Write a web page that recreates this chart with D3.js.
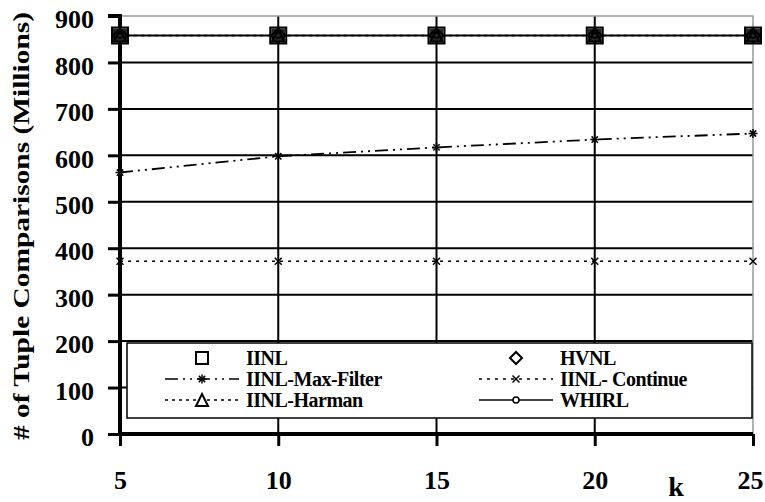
<!DOCTYPE html>
<html><head><meta charset="utf-8">
<script src="https://cdn.jsdelivr.net/npm/d3@7"></script>
<style>body{margin:0;background:#fff}svg{display:block}text{font-family:"Liberation Serif","Times New Roman",serif}</style>
</head><body>
<svg id="c" width="765" height="502"></svg>
<script>
const kValues = [5, 10, 15, 20, 25];
const iinl = [858, 858, 858, 858, 858];
const hvnl = [858, 858, 858, 858, 858];
const harman = [858, 858, 858, 858, 858];
const whirl = [858, 858, 858, 858, 858];
const maxFilter = [563, 598, 617, 634, 647];
const continueV = [372, 372, 372, 372, 372];
const yTickValues = [0, 100, 200, 300, 400, 500, 600, 700, 800, 900];
const seriesNames = ["IINL", "HVNL", "IINL-Max-Filter", "IINL- Continue", "IINL-Harman", "WHIRL"];

const svg = d3.select("#c");
const L = 120, R = 753, T = 16, B = 434;
const x = d3.scaleLinear().domain([5, 25]).range([L, R]);
const y = d3.scaleLinear().domain([0, 900]).range([B, T]);

// grid
svg.append("g").selectAll("line").data(yTickValues.filter(v => v > 0 && v < 900)).join("line")
  .attr("x1", L).attr("x2", R).attr("y1", d => y(d)).attr("y2", d => y(d))
  .attr("stroke", "#000").attr("stroke-width", 2);
svg.append("g").selectAll("line").data(kValues.filter(v => v > 5 && v < 25)).join("line")
  .attr("x1", d => x(d)).attr("x2", d => x(d)).attr("y1", T).attr("y2", B)
  .attr("stroke", "#000").attr("stroke-width", 2);
svg.append("path").attr("d", `M${L},${y(900)}H${R}V${B}`).attr("fill", "none").attr("stroke", "#999").attr("stroke-width", 1.5);

// legend box (covers grid)
const lg = svg.append("g");
lg.append("rect").attr("x", 127).attr("y", 343).attr("width", 625).attr("height", 75)
  .attr("fill", "#fff").attr("stroke", "#000").attr("stroke-width", 1.5);

// axes
const yAxis = svg.append("g").attr("transform", `translate(${L},0)`)
  .call(d3.axisLeft(y).tickValues(yTickValues).tickSize(12).tickPadding(14));
const xAxis = svg.append("g").attr("transform", `translate(0,${B})`)
  .call(d3.axisBottom(x).tickValues(kValues).tickSize(12).tickPadding(20));
[yAxis, xAxis].forEach(a => {
  a.select(".domain").attr("stroke", "#000").attr("stroke-width", 4);
  a.selectAll(".tick line").attr("stroke", "#000").attr("stroke-width", 3);
  a.selectAll("text").attr("fill", "#000").attr("font-weight", "bold")
    .attr("font-family", "Liberation Serif, serif");
});
yAxis.selectAll("text").attr("font-size", 26).attr("dy", "0.45em");
xAxis.selectAll("text").attr("font-size", 26).attr("y", 46).attr("dy", "0.35em")
  .attr("x", d => d === 25 ? -3 : 0);
yAxis.select(".domain").attr("d", `M-12,${y(900)}H0V${B}`);
xAxis.select(".domain").attr("d", `M${L},0H${R}`);

svg.append("text").attr("transform", `translate(29,226) rotate(-90)`).attr("text-anchor", "middle")
  .attr("font-size", 23).attr("font-weight", "bold").attr("textLength", 428).attr("lengthAdjust", "spacingAndGlyphs")
  .text("# of Tuple Comparisons (Millions)");
svg.append("text").attr("x", 676).attr("y", 496).attr("text-anchor", "middle").attr("font-size", 28)
  .attr("font-weight", "bold").text("k");

// lines
const line = d3.line().x((d, i) => x(kValues[i])).y(d => y(d));
const styles = { mf: "13,5,2,5,2,5", cont: "3,5", harman: "3,4" };
svg.append("path").datum(maxFilter).attr("d", line).attr("fill", "none").attr("stroke", "#000")
  .attr("stroke-width", 1.8).attr("stroke-dasharray", styles.mf);
svg.append("path").datum(continueV).attr("d", line).attr("fill", "none").attr("stroke", "#000")
  .attr("stroke-width", 1.5).attr("stroke-dasharray", styles.cont);
svg.append("path").datum(harman).attr("d", line).attr("fill", "none").attr("stroke", "#000")
  .attr("stroke-width", 1.5).attr("stroke-dasharray", styles.harman);
svg.append("path").datum(whirl).attr("d", line).attr("fill", "none").attr("stroke", "#000")
  .attr("stroke-width", 2);

function marker(g, type, cx, cy, s) {
  const h = s / 2;
  if (type === "square") g.append("rect").attr("x", cx - h).attr("y", cy - h).attr("width", s).attr("height", s)
    .attr("fill", "#fff").attr("stroke", "#000").attr("stroke-width", 2);
  if (type === "diamond") g.append("path").attr("d", `M${cx},${cy - h}L${cx + h},${cy}L${cx},${cy + h}L${cx - h},${cy}Z`)
    .attr("fill", "#fff").attr("stroke", "#000").attr("stroke-width", 2);
  if (type === "triangle") g.append("path").attr("d", `M${cx},${cy - h}L${cx + h},${cy + h}L${cx - h},${cy + h}Z`)
    .attr("fill", "#fff").attr("stroke", "#000").attr("stroke-width", 2);
  if (type === "circle") g.append("circle").attr("cx", cx).attr("cy", cy).attr("r", h * 0.5)
    .attr("fill", "#fff").attr("stroke", "#000").attr("stroke-width", 1.5);
  if (type === "star") {
    [[-h, 0, h, 0], [0, -h, 0, h], [-h * .7, -h * .7, h * .7, h * .7], [-h * .7, h * .7, h * .7, -h * .7]].forEach(a =>
      g.append("line").attr("x1", cx + a[0]).attr("y1", cy + a[1]).attr("x2", cx + a[2]).attr("y2", cy + a[3])
        .attr("stroke", "#000").attr("stroke-width", 1.5));
  }
  if (type === "x") {
    [[-h, -h, h, h], [-h, h, h, -h]].forEach(a =>
      g.append("line").attr("x1", cx + a[0]).attr("y1", cy + a[1]).attr("x2", cx + a[2]).attr("y2", cy + a[3])
        .attr("stroke", "#000").attr("stroke-width", 1.5));
  }
}
const mg = svg.append("g");
kValues.forEach((k, i) => {
  marker(mg, "square", x(k), y(iinl[i]), 16);
  marker(mg, "diamond", x(k), y(hvnl[i]), 14);
  marker(mg, "triangle", x(k), y(harman[i]), 12);
  marker(mg, "circle", x(k), y(whirl[i]), 10);
  mg.append("rect").attr("x", x(k) - 7).attr("y", y(iinl[i]) - 7).attr("width", 14).attr("height", 14)
    .attr("fill", "#000").attr("opacity", 0.85);
  marker(mg, "star", x(k), y(maxFilter[i]), 9);
  marker(mg, "x", x(k), y(continueV[i]), 7);
});

const legendItems = [
  {name: seriesNames[0], col: 0, row: 0, m: "square", dash: null},
  {name: seriesNames[1], col: 1, row: 0, m: "diamond", dash: null},
  {name: seriesNames[2], col: 0, row: 1, m: "star", dash: styles.mf},
  {name: seriesNames[3], col: 1, row: 1, m: "x", dash: styles.cont},
  {name: seriesNames[4], col: 0, row: 2, m: "triangle", dash: styles.harman},
  {name: seriesNames[5], col: 1, row: 2, m: "circle", dash: "none"}
];
const colX = [202, 516], rowY = [358, 379, 400];
legendItems.forEach(it => {
  const cx = colX[it.col], cy = rowY[it.row];
  if (it.dash) {
    lg.append("line").attr("x1", cx - 37).attr("x2", cx + 37).attr("y1", cy).attr("y2", cy)
      .attr("stroke", "#000").attr("stroke-width", 1.3).attr("stroke-dasharray", it.dash === "none" ? null : it.dash);
  }
  const sz = it.m === "star" ? 9 : it.m === "x" ? 7 : 12;
  marker(lg, it.m, cx, cy, sz);
  lg.append("text").attr("x", cx + 44).attr("y", cy).attr("dy", "0.35em").attr("font-size", 20)
    .attr("font-weight", "bold").attr("letter-spacing", -0.5).text(it.name);
});
</script>
</body></html>
